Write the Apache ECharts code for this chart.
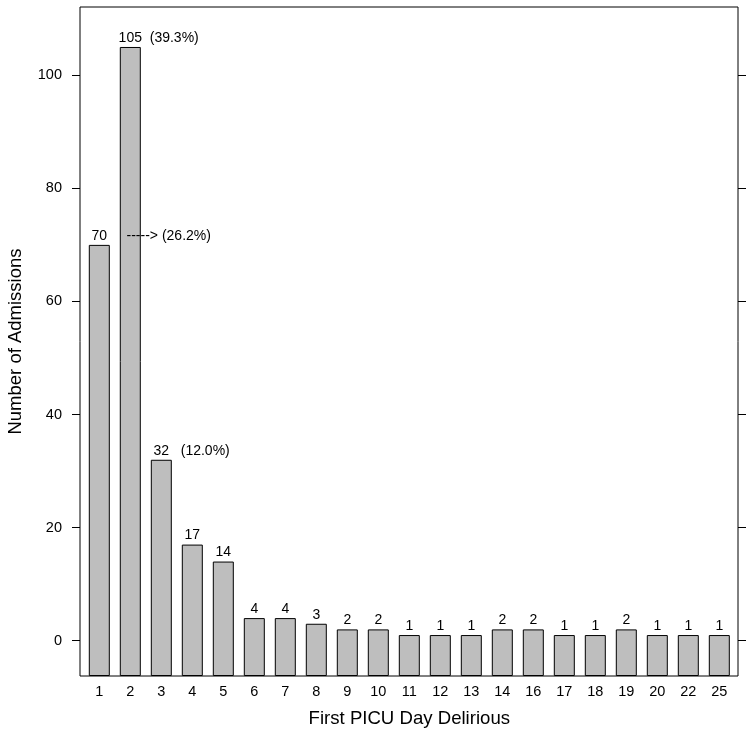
<!DOCTYPE html>
<html lang="en">
<head>
<meta charset="UTF-8">
<title>First PICU Day Delirious</title>
<script src="https://cdn.jsdelivr.net/npm/echarts@6/dist/echarts.min.js"></script>
<style>
    html, body { margin: 0; padding: 0; background: #fff; }
    #main { width: 754px; height: 739px; }
</style>
</head>
<body>
<div id="main"></div>
<script>
    var days = ['1', '2', '3', '4', '5', '6', '7', '8', '9', '10', '11',
        '12', '13', '14', '16', '17', '18', '19', '20', '22', '25'];
    var admissions = [70, 105, 32, 17, 14, 4, 4, 3, 2, 2, 1,
        1, 1, 2, 2, 1, 1, 2, 1, 1, 1];
    var yTicks = [0, 20, 40, 60, 80, 100];
    var yMin = -6.24, yMax = 112.07;

    // text between the count and its percentage, for the three biggest bars
    var noteGap = ['     -----> ', '  ', '   '];

    var font = 'Liberation Sans, Arial, sans-serif';
    var total = admissions.reduce(function (a, b) { return a + b; }, 0);

    var barData = admissions.map(function (v, i) {
        if (i >= noteGap.length) return v;
        var pct = (v / total * 100).toFixed(1);
        return {
            value: v,
            label: {
                align: 'left',
                offset: [-String(v).length * 3.9, 0],
                formatter: v + noteGap[i] + '(' + pct + '%)'
            }
        };
    });

    var chart = echarts.init(document.getElementById('main'));
    chart.setOption({
        animation: false,
        textStyle: { fontFamily: font },
        grid: [
            { left: 83.8, right: 19.2, top: 7, bottom: 63, outerBoundsMode: 'none' },
            { left: 80, right: 16, top: 7, bottom: 63, show: true, borderColor: '#000',
              borderWidth: 1, backgroundColor: 'transparent', outerBoundsMode: 'none' }
        ],
        xAxis: [
            {
                type: 'category', gridIndex: 0, data: days,
                axisLine: { show: false }, axisTick: { show: false },
                axisLabel: { color: '#000', fontSize: 14.5, margin: 8, interval: 0, fontFamily: font },
                name: 'First PICU Day Delirious', nameLocation: 'middle', nameGap: 33,
                nameTextStyle: { color: '#000', fontSize: 18.6, fontFamily: font }
            },
            { type: 'value', gridIndex: 1, show: false }
        ],
        yAxis: [
            {
                type: 'value', gridIndex: 0, position: 'left', offset: 3.8,
                min: yMin, max: yMax, startValue: yMin,
                axisLine: { show: false }, splitLine: { show: false },
                axisTick: { show: true, length: 8, customValues: yTicks, lineStyle: { color: '#000' } },
                axisLabel: { customValues: yTicks, color: '#000', fontSize: 14.5, margin: 18, fontFamily: font },
                name: 'Number of Admissions', nameLocation: 'middle', nameGap: 55,
                nameTextStyle: { color: '#000', fontSize: 18.5, fontFamily: font }
            },
            {
                type: 'value', gridIndex: 0, position: 'right', offset: 3.2,
                min: yMin, max: yMax,
                axisLine: { show: false }, splitLine: { show: false },
                axisTick: { show: true, length: 8, customValues: yTicks, lineStyle: { color: '#000' } },
                axisLabel: { show: false }
            },
            { type: 'value', gridIndex: 1, show: false }
        ],
        series: [{
            type: 'bar',
            xAxisIndex: 0, yAxisIndex: 0,
            data: barData,
            barWidth: 21,
            itemStyle: { color: '#bebebe', borderColor: '#000', borderWidth: 1 },
            label: {
                show: true, position: 'top', distance: 2,
                color: '#000', fontSize: 14, fontFamily: font
            }
        }]
    });
</script>
</body>
</html>
